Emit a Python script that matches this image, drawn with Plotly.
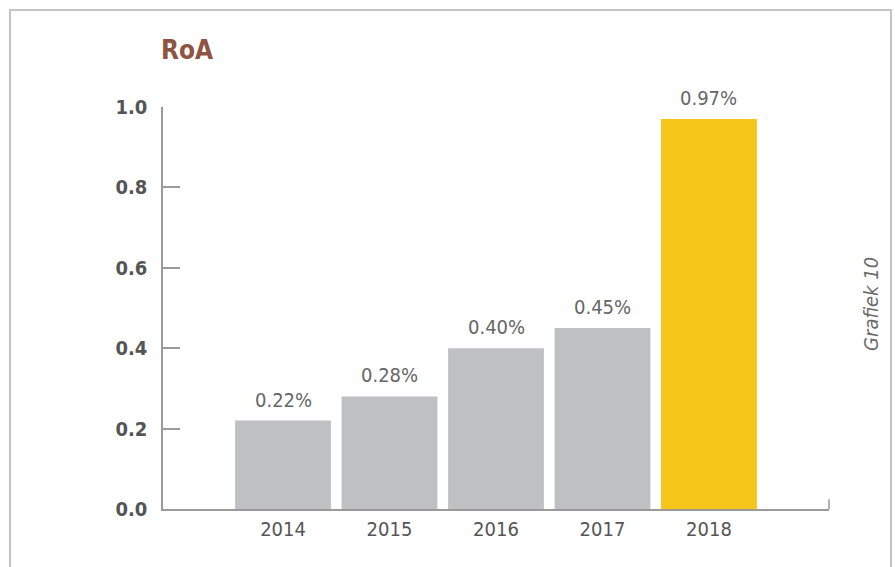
import plotly.graph_objects as go

years = ["2014", "2015", "2016", "2017", "2018"]
roa = [0.22, 0.28, 0.40, 0.45, 0.97]
bar_colors = ["#bfc0c2", "#bfc0c2", "#bfc0c2", "#bfc0c2", "#f5c518"]
y_ticks = [0.0, 0.2, 0.4, 0.6, 0.8, 1.0]
title_text = "RoA"
side_note = "Grafiek 10"

FONT = "DejaVu Sans Condensed, Liberation Sans Narrow, Arial Narrow, sans-serif"
TXT = "#555555"

fig = go.Figure()
fig.add_trace(go.Bar(
    x=years, y=roa, marker=dict(color=bar_colors, line=dict(width=0)),
    width=0.9, hoverinfo="skip",
))

for i, v in enumerate(roa):
    fig.add_annotation(
        x=i, y=v, xref="x", yref="y", text=f"{v:.2f}%", showarrow=False,
        yanchor="bottom", yshift=7, font=dict(family=FONT, size=20, color="#666666"),
    )

fig.add_annotation(
    x=-0.006, y=1.142, xref="paper", yref="paper", text=f"<b>{title_text}</b>",
    showarrow=False, xanchor="left", yanchor="middle",
    font=dict(family=FONT, size=26, color="#8e5341"),
)
fig.add_annotation(
    x=1.063, y=0.51, xref="paper", yref="paper", text=f"<i>{side_note}</i>",
    showarrow=False, textangle=-90, xanchor="center", yanchor="middle",
    font=dict(family=FONT, size=20, color="#6a6a6a"),
)

# frame around the figure
fig.add_shape(type="rect", xref="paper", yref="paper",
              x0=-0.2297, x1=1.0931, y0=-0.2, y1=1.2413,
              line=dict(color="#c4c4c4", width=2), layer="below")
# end tick of the x axis
fig.add_shape(type="line", xref="paper", yref="paper",
              x0=1, x1=1, y0=0, y1=0.024,
              line=dict(color="#9a9a9a", width=1.5))

fig.update_layout(
    width=895, height=567,
    margin=dict(l=163, r=66, t=107, b=58),
    paper_bgcolor="white", plot_bgcolor="white",
    showlegend=False, bargap=0.1,
    font=dict(family=FONT, color=TXT),
    xaxis=dict(
        type="category",
        range=[-1.127, 5.127], showgrid=False, zeroline=False,
        showline=True, linecolor="#9a9a9a", linewidth=1.5,
        ticks="", tickfont=dict(family=FONT, size=20, color=TXT),
        ticklabelstandoff=1, fixedrange=True,
    ),
    yaxis=dict(
        range=[0, 1.0], tickvals=y_ticks, tickformat=".1f",
        showgrid=False, zeroline=False,
        showline=True, linecolor="#9a9a9a", linewidth=1.5,
        ticks="inside", ticklen=17, tickcolor="#9a9a9a", tickwidth=1.5,
        tickfont=dict(family=FONT, size=20, color=TXT, weight="bold"),
        ticklabelstandoff=10, fixedrange=True,
    ),
)

fig.write_html("out.html", config={"displayModeBar": False},
               post_script="document.body.style.margin='0';")
